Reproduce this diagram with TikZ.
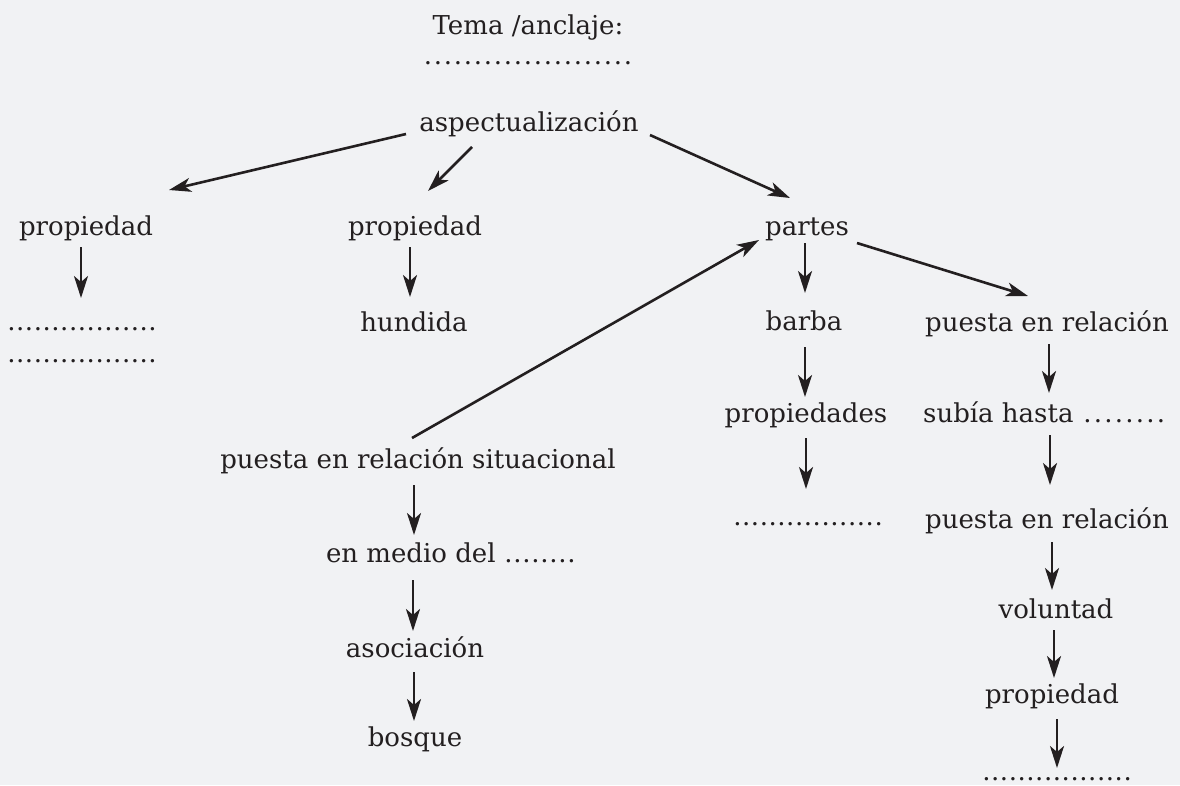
\documentclass[tikz,border=0pt]{standalone}
\usepackage{fontspec}
\setmainfont{DejaVu Serif}
\usetikzlibrary{arrows.meta}
\definecolor{bg}{HTML}{F1F2F4}
\definecolor{ink}{HTML}{231F20}
\newcommand{\drow}[2]{\hbox{\xleaders\hbox to #2pt{\hss.\hss}\hskip #1pt}}
\tikzset{
  lbl/.style={anchor=base, inner sep=0pt, text=ink, font=\fontsize{26}{31}\selectfont},
  arr/.style={draw=ink, line width=2.6pt, -{Stealth[length=22pt,width=14pt,inset=6pt]}},
}
\begin{document}
\begin{tikzpicture}[x=1pt,y=-1pt]
\fill[bg] (0,0) rectangle (1180,785);
\useasboundingbox (0,0) rectangle (1180,785);
% nodes
\node[lbl] (tema)   at (528,34)  {Tema /anclaje:};
\node[lbl] (tdots)  at (528,64)  {\drow{210}{10}};
\node[lbl] (asp)    at (529,131) {aspectualización};
\node[lbl] (pL)     at (86,235)  {propiedad};
\node[lbl] (pM)     at (415,235) {propiedad};
\node[lbl] (partes) at (807,235) {partes};
\node[lbl] (dL1)    at (82,330)  {\drow{150}{8.8}};
\node[lbl] (dL2)    at (82,362)  {\drow{150}{8.8}};
\node[lbl] (hund)   at (414,331) {hundida};
\node[lbl] (barba)  at (804,330) {barba};
\node[lbl] (R1)     at (1047,331) {puesta en relación};
\node[lbl] (props)  at (806,422) {propiedades};
\node[lbl] (subia)  at (1045,422) {subía hasta \drow{85}{9.5}};
\node[lbl] (sit)    at (418,468) {puesta en relación situacional};
\node[lbl] (dM)     at (808,525) {\drow{150}{8.8}};
\node[lbl] (R2)     at (1047,528) {puesta en relación};
\node[lbl] (medio)  at (451,562) {en medio del \drow{72}{9}};
\node[lbl] (vol)    at (1056,618) {voluntad};
\node[lbl] (asoc)   at (415,657) {asociación};
\node[lbl] (pR)     at (1052,703) {propiedad};
\node[lbl] (bosque) at (415,746) {bosque};
\node[lbl] (dR)     at (1057,780) {\drow{150}{8.8}};
% diagonal connectors
\draw[arr] ([shift={(-123,3)}]asp.base) -- ([shift={(83,-45)}]pL.base);
\draw[arr] ([shift={(-57,16)}]asp.base) -- ([shift={(13,-44)}]pM.base);
\draw[arr] ([shift={(121,4)}]asp.base) -- ([shift={(-17,-37)}]partes.base);
\draw[arr] ([shift={(50,8)}]partes.base) -- ([shift={(-19,-35)}]R1.base);
\draw[arr] ([shift={(-6,-30)}]sit.base) -- ([shift={(-48,5)}]partes.base);
% vertical connectors
\draw[arr] ([shift={(-5,12)}]pL.base) -- ([shift={(-1,-32)}]dL1.base);
\draw[arr] ([shift={(-5,12)}]pM.base) -- ([shift={(-4,-34)}]hund.base);
\draw[arr] ([shift={(-2,8)}]partes.base) -- ([shift={(1,-37)}]barba.base);
\draw[arr] ([shift={(1,17)}]barba.base) -- ([shift={(-1,-25)}]props.base);
\draw[arr] ([shift={(0,16)}]props.base) -- ([shift={(-2,-36)}]dM.base);
\draw[arr] ([shift={(2,13)}]R1.base) -- ([shift={(4,-29)}]subia.base);
\draw[arr] ([shift={(5,13)}]subia.base) -- ([shift={(3,-43)}]R2.base);
\draw[arr] ([shift={(5,14)}]R2.base) -- ([shift={(-4,-28)}]vol.base);
\draw[arr] ([shift={(-2,12)}]vol.base) -- ([shift={(2,-25)}]pR.base);
\draw[arr] ([shift={(5,16)}]pR.base) -- ([shift={(0,-12)}]dR.base);
\draw[arr] ([shift={(-4,17)}]sit.base) -- ([shift={(-37,-27)}]medio.base);
\draw[arr] ([shift={(-38,18)}]medio.base) -- ([shift={(-2,-26)}]asoc.base);
\draw[arr] ([shift={(-1,15)}]asoc.base) -- ([shift={(-1,-25)}]bosque.base);
\end{tikzpicture}
\end{document}
